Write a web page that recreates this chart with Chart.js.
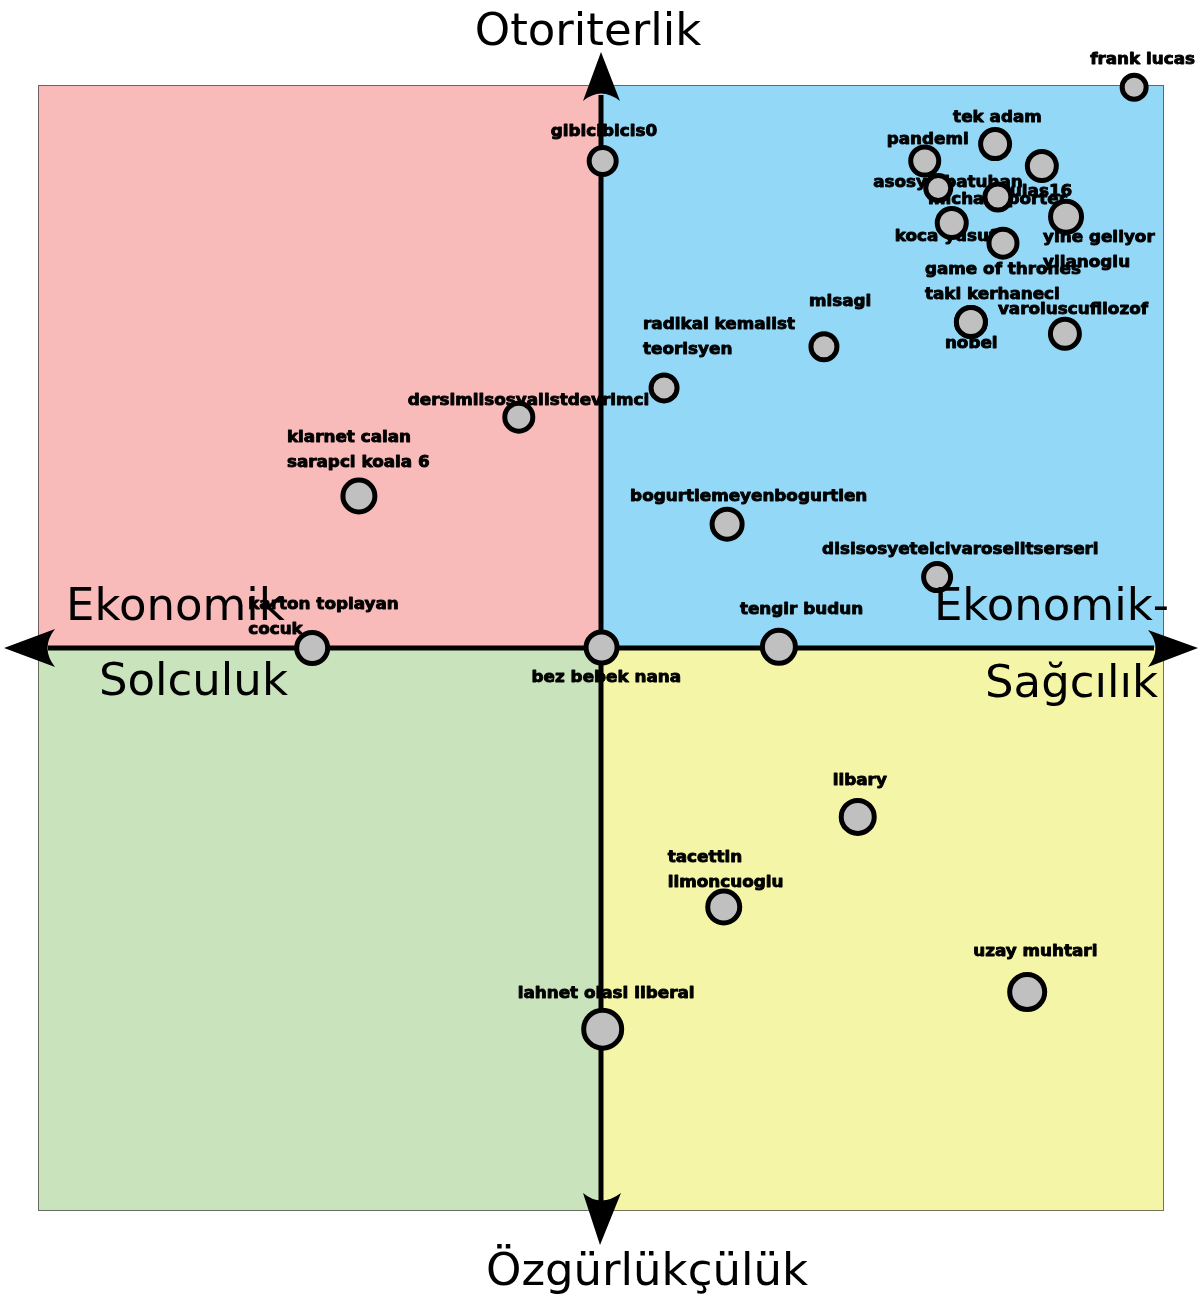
<!DOCTYPE html>
<html>
<head>
<meta charset="utf-8">
<script src="https://cdn.jsdelivr.net/npm/chart.js@4"></script>
<style>
  body { margin: 0; background: #fff; }
  #wrap { width: 1200px; height: 1306px; }
</style>
</head>
<body>
<div id="wrap"><canvas id="compass" width="1200" height="1306"></canvas></div>
<script>
// isimler ve konumlar (x: ekonomik sol/sag, y: ozgurlukcu/otoriter)
const names = [
    'frank lucas', 'tek adam', 'pandemi', 'ulas16', 'asosyalbatuhan', 'michael porter',
    'yine geliyor\nyilanoglu', 'koca yusuf', 'game of thrones', 'taki kerhaneci', 'nobel',
    'varoluscufilozof', 'misagi', 'radikal kemalist\nteorisyen', 'dersimlisosyalistdevrimci',
    'klarnet calan\nsarapci koala 6', 'gibicibicis0', 'bogurtlemeyenbogurtlen',
    'disisosyeteicivaroselitserseri', 'tengir budun', 'karton toplayan\ncocuk', 'bez bebek nana',
    'libary', 'tacettin\nlimoncuoglu', 'uzay muhtari', 'lahnet olasi liberal'
];
const xValues = [
    9.47, 7.00, 5.75, 7.83, 5.99, 7.05,
    8.26, 6.23, 7.14, 6.57, 6.57,
    8.24, 3.96, 1.12, -1.46,
    -4.30, 0.03, 2.24,
    5.97, 3.16, -5.13, 0.01,
    4.56, 2.18, 7.57, 0.03
];
const yValues = [
    9.96, 8.95, 8.65, 8.56, 8.17, 8.01,
    7.66, 7.55, 7.19, 5.79, 5.79,
    5.58, 5.35, 4.62, 4.10,
    2.70, 8.65, 2.20,
    1.26, 0.02, 0.00, 0.01,
    -3.00, -4.60, -6.11, -6.77
];
const axisTitles = ['Otoriterlik', 'Özgürlükçülük', 'Ekonomik', 'Solculuk', 'Ekonomik-', 'Sağcılık'];

// etiket kaymalari (piksel) ve nokta boyutlari
const labelOffsets = [
    [-44, -27], [-42, -26], [-38, -21], [-32, 26], [-65, -5], [-70, 3],
    [-23, 21], [-57, 14], [-78, 27], [-46, -27], [-26, 22],
    [-67, -24], [-15, -45], [-21, -63], [-111, -16],
    [-72, -58], [-52, -29], [-97, -27],
    [-115, -27], [-39, -37], [-64, -43], [-70, 30],
    [-25, -36], [-56, -49], [-54, -40], [-85, -35]
];
const pointSizes = [
    12, 14.5, 14, 14.5, 12.5, 13,
    15.5, 14.5, 14, 14.5, 14.5,
    14.5, 13, 13, 14,
    16, 13.5, 15,
    13.5, 16.5, 15.5, 15.5,
    16.5, 16, 17.5, 19
];

const quadrantPlugin = {
    id: 'quadrants',
    beforeDraw(chart) {
        const { ctx, chartArea: a, scales } = chart;
        const cx = scales.x.getPixelForValue(0);
        const cy = scales.y.getPixelForValue(0);
        ctx.save();
        ctx.fillStyle = '#f9baba';
        ctx.fillRect(a.left, a.top, cx - a.left, cy - a.top);
        ctx.fillStyle = '#93d8f6';
        ctx.fillRect(cx, a.top, a.right - cx, cy - a.top);
        ctx.fillStyle = '#c9e4bd';
        ctx.fillRect(a.left, cy, cx - a.left, a.bottom - cy);
        ctx.fillStyle = '#f5f5a7';
        ctx.fillRect(cx, cy, a.right - cx, a.bottom - cy);
        ctx.strokeStyle = 'rgba(60,60,60,0.7)';
        ctx.lineWidth = 1;
        ctx.strokeRect(a.left + 0.5, a.top + 0.5, a.right - a.left - 1, a.bottom - a.top - 1);
        ctx.restore();
    },
    beforeDatasetsDraw(chart) {
        const { ctx, chartArea: a, scales } = chart;
        const meta = chart.getDatasetMeta(0);

        // etiketler
        ctx.save();
        ctx.fillStyle = '#000';
        ctx.strokeStyle = '#000';
        ctx.lineWidth = 0.9;
        ctx.lineJoin = 'round';
        ctx.font = 'bold 16px "DejaVu Sans"';
        ctx.textBaseline = 'middle';
        ctx.textAlign = 'left';
        names.forEach((name, i) => {
            const pt = meta.data[i];
            const [dx, dy] = labelOffsets[i];
            name.split('\n').forEach((line, k) => {
                ctx.save();
                ctx.translate(pt.x + dx, pt.y + dy + k * 25);
                ctx.scale(1.05, 1);
                ctx.fillText(line, 0, 0);
                ctx.strokeText(line, 0, 0);
                ctx.restore();
            });
        });
        ctx.restore();

        // eksenler ve oklar
        const cx = scales.x.getPixelForValue(0);
        const cy = scales.y.getPixelForValue(0);
        ctx.save();
        ctx.strokeStyle = '#000';
        ctx.fillStyle = '#000';
        ctx.lineWidth = 5;
        ctx.beginPath();
        ctx.moveTo(a.left + 10, cy);
        ctx.lineTo(a.right - 10, cy);
        ctx.moveTo(cx, a.top + 10);
        ctx.lineTo(cx, a.bottom - 10);
        ctx.stroke();

        const arrow = (tip, c1, notch, c2) => {
            ctx.beginPath();
            ctx.moveTo(tip[0], tip[1]);
            ctx.lineTo(c1[0], c1[1]);
            ctx.quadraticCurveTo(notch[0], notch[1], c2[0], c2[1]);
            ctx.closePath();
            ctx.fill();
        };
        arrow([a.left - 34, cy], [a.left + 17, cy - 19], [a.left + 2, cy], [a.left + 17, cy + 19]);
        arrow([a.right + 34, cy], [a.right - 16, cy - 18], [a.right - 1, cy], [a.right - 16, cy + 19]);
        arrow([cx, a.top - 33], [cx - 18, a.top + 16], [cx, a.top + 1], [cx + 19, a.top + 16]);
        arrow([cx - 1, a.bottom + 34], [cx - 18, a.bottom - 18], [cx, a.bottom - 3], [cx + 20, a.bottom - 18]);
        ctx.restore();
    },
    afterDraw(chart) {
        const { ctx, chartArea: a, scales } = chart;
        const cx = scales.x.getPixelForValue(0);
        const cy = scales.y.getPixelForValue(0);
        ctx.save();
        ctx.fillStyle = '#000';
        ctx.font = '45px "DejaVu Sans"';
        ctx.textBaseline = 'alphabetic';
        ctx.textAlign = 'center';
        ctx.fillText(axisTitles[0], cx - 13, 45);
        ctx.fillText(axisTitles[1], cx + 46, 1285);
        ctx.textAlign = 'left';
        ctx.fillText(axisTitles[2], a.left + 28, cy - 28);
        ctx.fillText(axisTitles[3], a.left + 61, cy + 47);
        ctx.textAlign = 'right';
        ctx.fillText(axisTitles[4], a.right + 5, cy - 28);
        ctx.fillText(axisTitles[5], a.right - 6, cy + 49);
        ctx.restore();
    }
};

const ctx = document.getElementById('compass').getContext('2d');
const compassChart = new Chart(ctx, {
    type: 'scatter',
    data: {
        datasets: [{
            data: xValues.map((x, i) => ({ x: x, y: yValues[i] })),
            pointRadius: pointSizes,
            pointBackgroundColor: '#c0c0c0',
            pointBorderColor: '#000',
            borderColor: '#000',
            borderWidth: 5,
            pointBorderWidth: 5,
            clip: false
        }]
    },
    options: {
        responsive: false,
        animation: false,
        events: [],
        layout: {
            padding: { left: 38, right: 36, top: 85, bottom: 95 }
        },
        scales: {
            x: { min: -10, max: 10, display: false },
            y: { min: -10, max: 10, display: false }
        },
        plugins: {
            legend: { display: false },
            tooltip: { enabled: false }
        }
    },
    plugins: [quadrantPlugin]
});
</script>
</body>
</html>
